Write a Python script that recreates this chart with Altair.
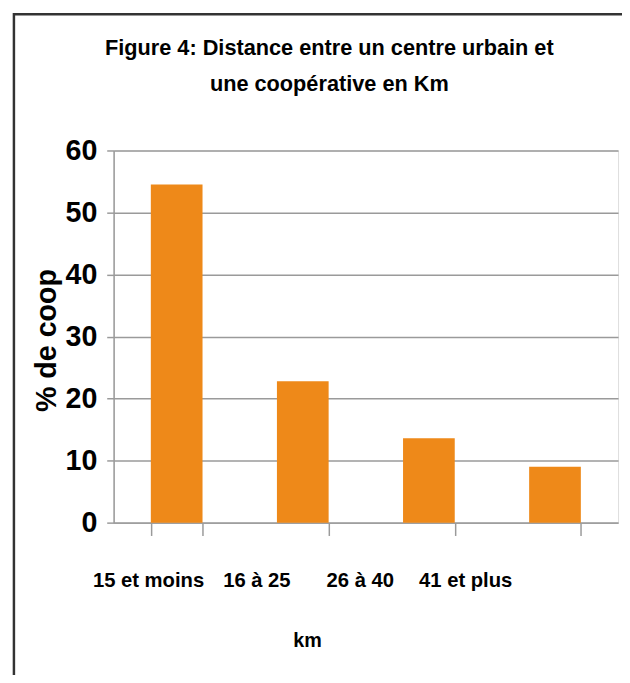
import altair as alt
import pandas as pd

categories = ["15 et moins", "16 à 25", "26 à 40", "41 et plus"]
values = [54.5, 22.8, 13.6, 9.0]
y_ticks = [0, 10, 20, 30, 40, 50, 60]
title_lines = ["Figure 4: Distance entre un centre urbain et", "une coopérative en Km"]

df = pd.DataFrame({"km": categories, "pct": values})

FONT = "Liberation Sans, Arial, sans-serif"
GRID = "#9a9a9a"

label_shift = [-29, -47, -70, -91]
offset_cond = {
    "condition": [
        {"test": f"datum.value == '{c}'", "value": o}
        for c, o in zip(categories[:-1], label_shift[:-1])
    ],
    "value": label_shift[-1],
}

bars = alt.Chart(df).mark_bar(color="#EE8919").encode(
    x=alt.X(
        "km:N",
        sort=categories,
        scale=alt.Scale(paddingInner=0.59, paddingOuter=0.295),
        axis=alt.Axis(
            title="km",
            titleFont=FONT,
            titleFontSize=20,
            titleFontWeight="bold",
            titleAnchor="start",
            titleAlign="center",
            titleBaseline="top",
            titleX=196,
            titleY=109,
            labelAngle=0,
            labelFont=FONT,
            labelFontSize=20.5,
            labelFontWeight="bold",
            labelColor="black",
            labelBaseline="top",
            labelPadding=36,
            labelOffset=offset_cond,
            tickBand="extent",
            tickSize=13,
            tickColor=GRID,
            tickWidth=1.5,
            domainColor=GRID,
            domainWidth=1.5,
        ),
    ),
    y=alt.Y(
        "pct:Q",
        scale=alt.Scale(domain=[0, 60], nice=False),
        axis=alt.Axis(
            values=y_ticks,
            title="% de coop",
            titleFont=FONT,
            titleFontSize=29,
            titleFontWeight="bold",
            titleAngle=270,
            titleAlign="center",
            titleBaseline="middle",
            titleX=-68,
            titleY=192,
            labelFont=FONT,
            labelFontSize=29,
            labelFontWeight="bold",
            labelColor="black",
            labelPadding=10,
            tickSize=7,
            tickColor=GRID,
            tickWidth=1.5,
            domainColor=GRID,
            domainWidth=1.5,
            grid=True,
            gridColor=GRID,
            gridWidth=1.5,
        ),
    ),
)

frame = alt.Chart(pd.DataFrame({"f": [0]})).mark_rect(
    fill="white", fillOpacity=0, stroke="#333333", strokeWidth=2.5
).encode(
    x=alt.value(-101), x2=alt.value(640), y=alt.value(-138), y2=alt.value(700)
)

chart = alt.layer(bars, frame).properties(
    width=511,
    height=377,
    autosize=alt.AutoSizeParams(type="none"),
    padding={"left": 107, "top": 140, "right": 4, "bottom": 150},
    title=alt.TitleParams(
        text=title_lines,
        font=FONT,
        fontSize=22,
        fontWeight="bold",
        color="black",
        anchor="middle",
        frame="group",
        dx=-37,
        offset=-84,
        lineHeight=36,
    ),
).configure_view(stroke=None).configure(background="white")

chart.save("out.html", embed_options={"renderer": "svg", "actions": False})
